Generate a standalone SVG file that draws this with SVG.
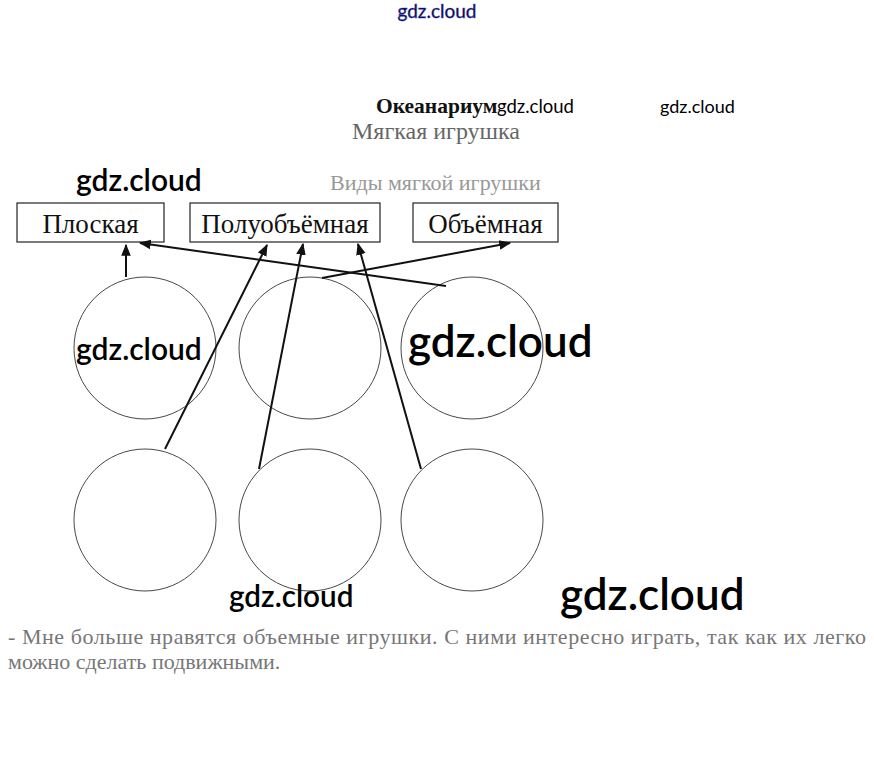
<svg xmlns="http://www.w3.org/2000/svg" width="874" height="766" viewBox="0 0 874 766">
<style>
.box{fill:#fff;stroke:#222;stroke-width:1.2}
.lbl{font-family:"Liberation Serif","Times New Roman",serif;font-size:27px;fill:#111;text-anchor:middle}
.circ{fill:none;stroke:#333;stroke-width:0.9}
.arr{stroke:#111;stroke-width:2;fill:none;marker-end:url(#ah)}
.wm{font-family:Lato,"Liberation Sans",sans-serif;fill:#000}
.ser{font-family:"Liberation Serif","Times New Roman",serif}
</style>
<defs>
<marker id="ah" viewBox="0 0 10 10" refX="9" refY="5" markerWidth="6" markerHeight="6" orient="auto" markerUnits="strokeWidth">
<path d="M0,1 L10,5 L0,9 Z" fill="#111"/>
</marker>
</defs>
<rect width="874" height="766" fill="#fff"/>

<text x="437" y="18" class="wm" font-size="19" text-anchor="middle" fill="#fff" stroke="#4a4ae8" stroke-width="0.5">gdz.cloud</text>

<g id="title">
<text x="376" y="113" class="ser" font-size="21.5" font-weight="bold" fill="#111">Океанариум</text>
<text x="352" y="139" class="ser" font-size="24" fill="#666">Мягкая игрушка</text>
<text x="330" y="190" class="ser" font-size="22" fill="#999">Виды мягкой игрушки</text>
</g>

<text x="497" y="113" class="wm" font-size="18.5">gdz.cloud</text>
<text x="660" y="113" class="wm" font-size="18">gdz.cloud</text>
<text x="76" y="191" class="wm" font-size="30" font-weight="600">gdz.cloud</text>

<g id="n-ploskaya">
<rect class="box" x="17" y="203" width="147" height="39"/>
<text class="lbl" x="90.5" y="233">Плоская</text>
</g>
<g id="n-poluobemnaya">
<rect class="box" x="190" y="203" width="190" height="39"/>
<text class="lbl" x="285" y="233">Полуобъёмная</text>
</g>
<g id="n-obemnaya">
<rect class="box" x="413" y="203" width="145" height="39"/>
<text class="lbl" x="485.5" y="233">Объёмная</text>
</g>

<g id="c1"><circle class="circ" cx="145" cy="348" r="71"/></g>
<g id="c2"><circle class="circ" cx="310" cy="348" r="71"/></g>
<g id="c3"><circle class="circ" cx="472" cy="348" r="71"/></g>
<g id="c4"><circle class="circ" cx="145" cy="520" r="71"/></g>
<g id="c5"><circle class="circ" cx="310" cy="520" r="71"/></g>
<g id="c6"><circle class="circ" cx="472" cy="520" r="71"/></g>

<g id="connectors">
<line class="arr" x1="126" y1="277" x2="126" y2="245"/>
<line class="arr" x1="446" y1="286" x2="140" y2="243"/>
<line class="arr" x1="165" y1="449" x2="267" y2="245"/>
<line class="arr" x1="259" y1="469" x2="303" y2="244"/>
<line class="arr" x1="421" y1="469" x2="358" y2="244"/>
<line class="arr" x1="322" y1="278" x2="510" y2="243"/>
</g>

<text x="76" y="360" class="wm" font-size="30" font-weight="600">gdz.cloud</text>
<text x="408" y="357" class="wm" font-size="44" font-weight="600">gdz.cloud</text>
<text x="229" y="607" class="wm" font-size="29.7" font-weight="600">gdz.cloud</text>
<text x="560" y="610" class="wm" font-size="44" font-weight="600">gdz.cloud</text>

<g id="answer" class="ser" font-size="22" fill="#777">
<text x="8" y="644" textLength="858" lengthAdjust="spacing">- Мне больше нравятся объемные игрушки. С ними интересно играть, так как их легко</text>
<text x="8" y="669">можно сделать подвижными.</text>
</g>
</svg>
